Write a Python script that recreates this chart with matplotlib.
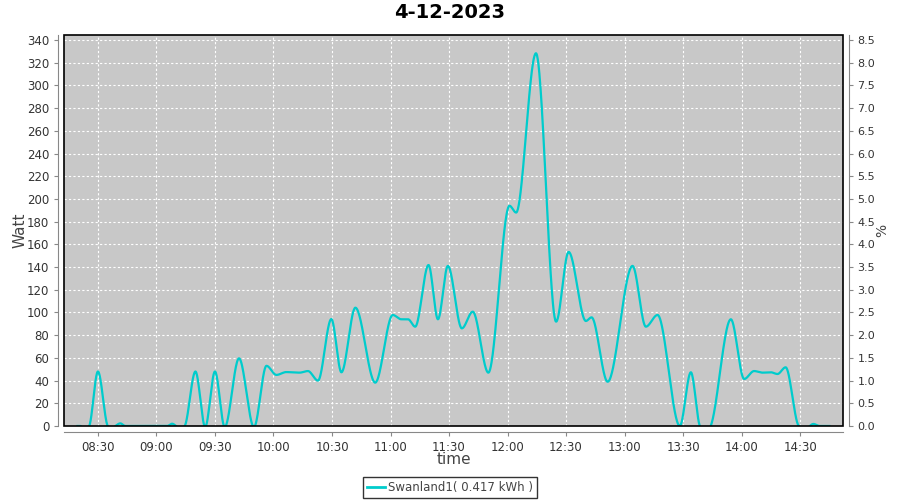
import matplotlib
matplotlib.use("Agg")
import matplotlib.pyplot as plt
import matplotlib.dates as mdates
import numpy as np
import pandas as pd
from matplotlib.patches import Rectangle

# -----------------------------------------------------------
# Données (heure, puissance en W)
# -----------------------------------------------------------
heures = [
    "08:19:30", "08:21:00", "08:23:00", "08:25:30", "08:30:00", "08:35:00",
    "08:37:00", "08:39:00", "08:41:30", "08:44:00", "09:03:00", "09:05:30",
    "09:08:00", "09:10:00", "09:12:00", "09:14:30", "09:20:00", "09:25:00",
    "09:30:00", "09:35:00", "09:42:20", "09:50:00", "09:56:25", "10:01:30",
    "10:06:35", "10:13:25", "10:17:40", "10:22:50", "10:29:40", "10:34:50",
    "10:42:00", "10:52:10", "11:01:10", "11:05:30", "11:09:00", "11:12:40",
    "11:19:30", "11:24:20", "11:29:25", "11:36:35", "11:42:10", "11:50:10",
    "12:01:00", "12:04:25", "12:14:35", "12:24:55", "12:31:20", "12:40:10",
    "12:43:05", "12:51:20", "13:04:05", "13:10:55", "13:16:55", "13:28:20",
    "13:34:00", "13:38:35", "13:41:30", "13:44:10", "13:54:30", "14:01:20",
    "14:06:25", "14:10:40", "14:15:00", "14:18:25", "14:22:35", "14:29:25",
    "14:33:00", "14:36:50", "14:40:00", "14:45:00",
]
watts = [
    0, 0, -4, 0, 48, 0,
    -4, 0, 2.3, 0, 0, 0,
    2, 0, -4, 0, 48, -1,
    48, -1, 59.6, -1, 53, 45,
    47.5, 47, 48.4, 40, 94.2, 47.3,
    104.2, 38.2, 97.8, 94, 94, 87.5,
    141.8, 94, 141, 86, 100.7, 47,
    194, 188, 328.3, 91.9, 153.3, 92.5,
    95.7, 39, 141, 87.5, 97.8, 0,
    47.3, 0, -8, 0, 94, 41.4,
    48.4, 47, 47.3, 45.8, 51.7, 0,
    -2, 1.8, 0, 0,
]
date_jour = "2023-12-04"
titre = "4-12-2023"
legende = "Swanland1( 0.417 kWh )"
ticks_x = ["08:30", "09:00", "09:30", "10:00", "10:30", "11:00", "11:30",
           "12:00", "12:30", "13:00", "13:30", "14:00", "14:30"]


# -----------------------------------------------------------
# Interpolation monotone (type PCHIP) pour lisser la courbe
# -----------------------------------------------------------
def pchip(x, y, xs):
    x = np.asarray(x, float)
    y = np.asarray(y, float)
    h = np.diff(x)
    d = np.diff(y) / h
    n = len(x)
    m = np.zeros(n)
    for k in range(1, n - 1):
        if d[k - 1] * d[k] > 0:
            w1 = 2 * h[k] + h[k - 1]
            w2 = h[k] + 2 * h[k - 1]
            m[k] = (w1 + w2) / (w1 / d[k - 1] + w2 / d[k])
    m[0] = d[0]
    m[-1] = d[-1]
    idx = np.clip(np.searchsorted(x, xs) - 1, 0, n - 2)
    t = (xs - x[idx]) / h[idx]
    h00 = 2 * t**3 - 3 * t**2 + 1
    h10 = t**3 - 2 * t**2 + t
    h01 = -2 * t**3 + 3 * t**2
    h11 = t**3 - t**2
    return (h00 * y[idx] + h10 * h[idx] * m[idx]
            + h01 * y[idx + 1] + h11 * h[idx] * m[idx + 1])


temps = pd.to_datetime([date_jour + " " + h for h in heures])
xnum = mdates.date2num(temps)
xs = np.linspace(xnum[0], xnum[-1], 2000)
ys = pchip(xnum, watts, xs)

fig = plt.figure(figsize=(9, 5), dpi=100)
ax = fig.add_axes([64 / 900, 1 - 426 / 500, (843 - 64) / 900, (426 - 35) / 500])

ax.set_facecolor("#c8c8c8")
ax.plot(mdates.num2date(xs), ys, color="#00cccc", lw=1.6, zorder=3)

x0 = pd.Timestamp(date_jour + " 08:12:36")
x1 = pd.Timestamp(date_jour + " 14:52:00")
ax.set_xlim(x0, x1)
ax.set_ylim(0, 344.4)
ax.set_yticks(np.arange(0, 341, 20))
ax.set_xticks([pd.Timestamp(date_jour + " " + t) for t in ticks_x])
ax.xaxis.set_major_formatter(mdates.DateFormatter("%H:%M"))

ax.grid(True, color="white", linestyle=(0, (2, 2)), linewidth=0.8)
ax.set_axisbelow(True)

for s in ["top", "right"]:
    ax.spines[s].set_visible(False)
for s in ["left", "bottom"]:
    ax.spines[s].set_position(("outward", 4))
    ax.spines[s].set_color("#888888")
ax.add_patch(Rectangle((0, 0), 1, 1, transform=ax.transAxes, fill=False,
                       ec="black", lw=1.2, zorder=4, clip_on=False))

ax.tick_params(labelsize=8.5, colors="#333333", length=3, color="#888888")
ax.set_ylabel("Watt", fontsize=11, color="#444444", labelpad=0)
ax.set_xlabel("time", fontsize=11, color="#444444", labelpad=-1)

# axe de droite en %
ax2 = ax.twinx()
ax2.set_ylim(0, 344.4 / 40)
ax2.set_yticks(np.arange(0, 8.51, 0.5))
ax2.yaxis.set_major_formatter(plt.FormatStrFormatter("%.1f"))
for s in ["top", "left", "bottom"]:
    ax2.spines[s].set_visible(False)
ax2.spines["right"].set_position(("outward", 4))
ax2.spines["right"].set_color("#888888")
ax2.tick_params(labelsize=8, colors="#333333", length=3, color="#888888")
ax2.set_ylabel("%", fontsize=10, color="#444444", labelpad=0)

fig.suptitle(titre, fontsize=14, fontweight="bold", y=0.995)

ligne = plt.Line2D([], [], color="#00cccc", lw=2)
leg = fig.legend([ligne], [legende], loc="lower center", bbox_to_anchor=(0.5, -0.008),
                 fontsize=8.5, frameon=True, fancybox=False, handlelength=1.5,
                 borderpad=0.35, handletextpad=0.3)
leg.get_frame().set_edgecolor("black")
leg.get_frame().set_linewidth(1)
for t in leg.get_texts():
    t.set_color("#444444")

plt.savefig("out.png", dpi=100)
plt.close()
